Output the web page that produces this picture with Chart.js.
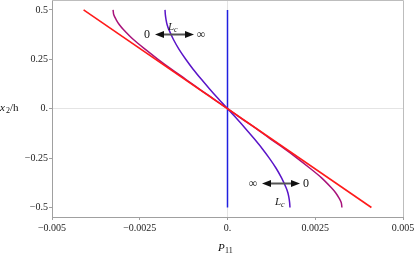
<!DOCTYPE html>
<html><head><meta charset="utf-8">
<script src="https://cdn.jsdelivr.net/npm/chart.js@4.4.1/dist/chart.umd.min.js"></script>
<style>html,body{margin:0;padding:0;background:#fff;}#wrap{width:415px;height:254px;}</style>
</head><body><div id="wrap"><canvas id="c" width="415" height="254"></canvas></div>
<script>
// x2/h sample positions (shared by the curved series)
const yVals = [0.5,0.475,0.45,0.425,0.4,0.35,0.3,0.25,0.2,0.15,0.1,0.05,0,-0.05,-0.1,-0.15,-0.2,-0.25,-0.3,-0.35,-0.4,-0.425,-0.45,-0.475,-0.5];
// P11 for intermediate L_c (violet)
const violetP = [-0.00178,-0.00177,-0.00175,-0.00172,-0.00167,-0.00154,-0.00138,-0.00119,-0.00098,-0.00075,-0.00051,-0.00026,0,0.00026,0.00051,0.00075,0.00098,0.00119,0.00138,0.00154,0.00167,0.00172,0.00175,0.00177,0.00178];
// P11 for small L_c (purple)
const purpleP = [-0.00326,-0.00324,-0.00317,-0.00308,-0.00296,-0.00268,-0.00234,-0.00198,-0.00160,-0.00120,-0.00081,-0.00040,0,0.00040,0.00081,0.00120,0.00160,0.00198,0.00234,0.00268,0.00296,0.00308,0.00317,0.00324,0.00326];
// limiting cases
const redX = [-0.0041, 0.0041];
const redY = [0.5, -0.5];
const blueX = [0, 0];
const blueY = [0.5, -0.5];
// ticks
const xTicks = [-0.005,-0.0025,0,0.0025,0.005];
const xTickLabels = ["\u22120.005","\u22120.0025","0.","0.0025","0.005"];
const yTicks = [-0.5,-0.25,0,0.25,0.5];
const yTickLabels = ["\u22120.5","\u22120.25","0.","0.25","0.5"];

const pts = (xs, ys) => xs.map((x,i)=>({x:x, y:ys[i]}));
const SERIF = '"Liberation Serif","DejaVu Serif",serif';

const overlay = {
  id:'overlay',
  afterDraw(chart){
    const ctx = chart.ctx, a = chart.chartArea;
    ctx.save();
    // top & right frame
    ctx.strokeStyle = '#bdbdbd'; ctx.lineWidth = 1;
    ctx.beginPath();
    ctx.moveTo(a.left, a.top+0.5); ctx.lineTo(a.right+0.5, a.top+0.5);
    ctx.lineTo(a.right+0.5, a.bottom);
    ctx.stroke();
    ctx.fillStyle = '#111';
    // axis titles
    ctx.textBaseline = 'alphabetic'; ctx.textAlign = 'left';
    ctx.font = 'italic 11px ' + SERIF; ctx.fillText('P', 218, 251);
    ctx.font = '8px ' + SERIF; ctx.fillText('11', 225, 253);
    ctx.font = 'italic 11px ' + SERIF; ctx.fillText('x', 0, 111);
    ctx.font = '8px ' + SERIF; ctx.fillText('2', 6, 113);
    ctx.font = '11px ' + SERIF; ctx.fillText('/h', 10, 111);
    // arrows
    function arrow(x1, x2, y){
      ctx.strokeStyle = '#555'; ctx.lineWidth = 2;
      ctx.beginPath(); ctx.moveTo(x1+5, y); ctx.lineTo(x2-5, y); ctx.stroke();
      ctx.fillStyle = '#111';
      ctx.beginPath(); ctx.moveTo(x1, y); ctx.lineTo(x1+9, y-3.5); ctx.lineTo(x1+9, y+3.5); ctx.closePath(); ctx.fill();
      ctx.beginPath(); ctx.moveTo(x2, y); ctx.lineTo(x2-9, y-3.5); ctx.lineTo(x2-9, y+3.5); ctx.closePath(); ctx.fill();
    }
    function lc(x, y){
      ctx.fillStyle = '#222'; ctx.textAlign = 'left';
      ctx.font = 'italic 11px ' + SERIF; ctx.fillText('L', x, y);
      ctx.font = 'italic 8px ' + SERIF; ctx.fillText('c', x+6, y+2);
    }
    arrow(155, 194, 34.5);
    arrow(262, 300, 183.5);
    ctx.fillStyle = '#111'; ctx.textAlign = 'center'; ctx.textBaseline = 'middle';
    ctx.font = '12px ' + SERIF;
    ctx.fillText('0', 147, 35);
    ctx.fillText('\u221E', 201, 35);
    ctx.fillText('\u221E', 253, 184);
    ctx.fillText('0', 306, 184);
    ctx.textBaseline = 'alphabetic';
    lc(168, 30);
    lc(275, 205);
    ctx.restore();
  }
};

const chart = new Chart(document.getElementById('c'), {
  type:'scatter',
  data:{ datasets:[
    {data: pts(redX, redY), showLine:true, borderColor:'#ff1a1a', borderWidth:1.6, pointRadius:0},
    {data: pts(purpleP, yVals), showLine:true, borderColor:'#a8127a', borderWidth:1.5, pointRadius:0, tension:0.3},
    {data: pts(violetP, yVals), showLine:true, borderColor:'#5a14c8', borderWidth:1.5, pointRadius:0, tension:0.3},
    {data: pts(blueX, blueY), showLine:true, borderColor:'#2020e0', borderWidth:1.5, pointRadius:0}
  ]},
  options:{
    responsive:false, animation:false,
    layout:{padding:{left:0,right:12,top:0,bottom:0}},
    plugins:{legend:{display:false}, tooltip:{enabled:false}},
    scales:{
      x:{type:'linear', min:-0.005, max:0.005,
        afterBuildTicks: s => { s.ticks = xTicks.map(v=>({value:v})); },
        afterFit: s => { s.height = 37; s.paddingLeft = 0; s.paddingRight = 0; },
        border:{color:'#a0a0a0', width:1},
        grid:{color: c => (c.tick && c.tick.value===0) ? '#e4e4e4' : 'rgba(0,0,0,0)', tickColor:'#a0a0a0', tickLength:3, lineWidth:1},
        ticks:{padding:2, maxRotation:0, autoSkip:false, color:'#222', font:{family:SERIF, size:10},
          callback:(v)=>{ const i = xTicks.indexOf(v); return i>=0 ? xTickLabels[i] : ''; }}
      },
      y:{type:'linear', min:-0.548, max:0.55,
        afterBuildTicks: s => { s.ticks = yTicks.map(v=>({value:v})); },
        afterFit: s => { s.width = 52; s.paddingTop = 0; s.paddingBottom = 0; },
        border:{color:'#a0a0a0', width:1},
        grid:{color: c => (c.tick && c.tick.value===0) ? '#e4e4e4' : 'rgba(0,0,0,0)', tickColor:'#a0a0a0', tickLength:3, lineWidth:1},
        ticks:{padding:1, autoSkip:false, color:'#222', font:{family:SERIF, size:10},
          callback:(v)=>{ const i = yTicks.indexOf(v); return i>=0 ? yTickLabels[i] : ''; }}
      }
    }
  },
  plugins:[overlay]
});
</script></body></html>
